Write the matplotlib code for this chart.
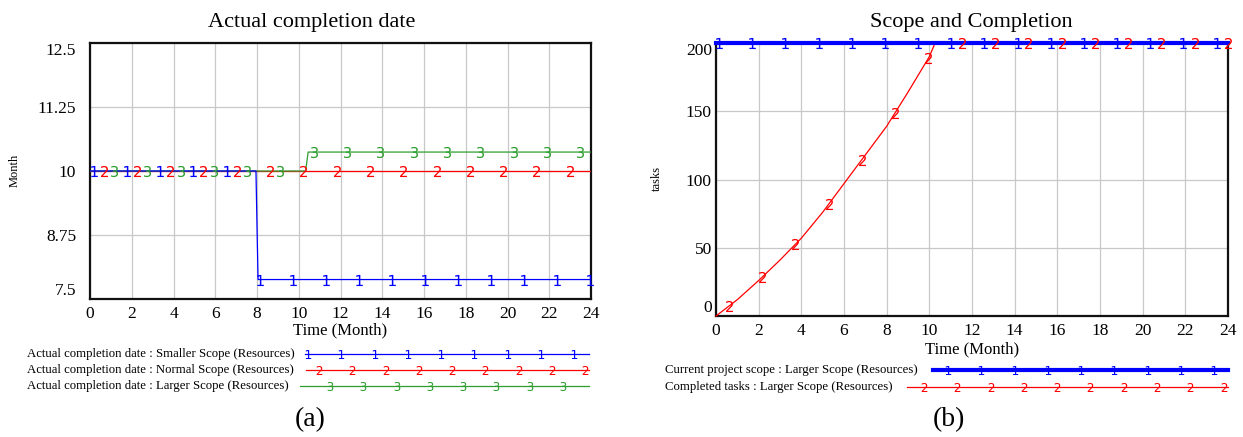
import matplotlib.pyplot as plt
import numpy as np

plt.rcParams['font.family'] = ['Liberation Serif', 'DejaVu Serif']

# (a) Actual completion date [Month]
t_small = [0, 7.95, 8.05, 24]
v_small = [10, 10, 7.88, 7.88]
t_normal = [0, 24]
v_normal = [10, 10]
t_large = [0, 10.33, 10.45, 24]
v_large = [10, 10, 10.37, 10.37]

# (b) Scope and completion [tasks]
t_scope = [0, 24]
v_scope = [200, 200]
t_done = [0, 1, 2, 3, 4, 5, 6, 7, 8, 9, 10, 10.27, 24]
v_done = [0, 12, 26, 41, 57, 76, 97, 118, 139, 164, 190, 200, 200]

x_ticks = list(range(0, 25, 2))
a_yticks = [7.5, 8.75, 10, 11.25, 12.5]
a_ylabels = ['7.5', '8.75', '10', '11.25', '12.5']
b_yticks = [0, 50, 100, 150, 200]

legend_a = ['Actual completion date : Smaller Scope (Resources)',
            'Actual completion date : Normal Scope (Resources)',
            'Actual completion date : Larger Scope (Resources)']
legend_b = ['Current project scope : Larger Scope (Resources)',
            'Completed tasks : Larger Scope (Resources)']

BLUE = '#0000ff'
RED = '#ff0000'
GREEN = '#2e9e2e'
W, H = 1243, 437


def number_marks(ax, t, v, start, step, digit, color, size=8):
    # Vensim style: series number drawn on the line every so often
    tm = np.arange(start, 24.05, step)
    ax.plot(tm, np.interp(tm, t, v), ls='none', marker=f'${digit}$',
            color=color, markersize=size, mew=0, clip_on=False, zorder=6)


def style_axes(ax, yticks, ylabels, ypad):
    ax.set_xlim(0, 24)
    ax.set_xticks(x_ticks)
    ax.set_yticks(yticks)
    ax.set_yticklabels(ylabels)
    ax.grid(True, color='#c8c8c8', lw=0.9)
    ax.set_axisbelow(True)
    ax.tick_params(length=0, labelsize=12.5)
    ax.tick_params(axis='y', pad=ypad)
    ax.tick_params(axis='x', pad=5)
    for s in ax.spines.values():
        s.set_linewidth(1.6)
        s.set_color('#111111')
    lbls = ax.get_yticklabels()
    lbls[0].set_va('bottom')
    lbls[-1].set_va('top')


fig = plt.figure(figsize=(W / 100, H / 100), dpi=100)

# ---- panel (a)
ax1 = fig.add_axes([90 / W, (H - 299) / H, 501 / W, 256 / H])
ax1.set_ylim(7.5, 12.5)
style_axes(ax1, a_yticks, a_ylabels, 10)
ax1.plot(t_normal, v_normal, color=RED, lw=0.9, zorder=3)
ax1.plot(t_large, v_large, color=GREEN, lw=0.9, zorder=3)
ax1.plot(t_small, v_small, color=BLUE, lw=0.9, zorder=4)
number_marks(ax1, t_small, v_small, 0.2, 1.585, 1, BLUE)
number_marks(ax1, t_normal, v_normal, 0.65, 1.595, 2, RED)
number_marks(ax1, t_large, v_large, 1.15, 1.595, 3, GREEN)

# ---- panel (b)
ax2 = fig.add_axes([716 / W, (H - 316) / H, 512 / W, 273 / H])
ax2.set_ylim(0, 200)
style_axes(ax2, b_yticks, [str(v) for v in b_yticks], 3)
ax2.plot(t_done, v_done, color=RED, lw=0.9, clip_on=False, zorder=3)
ax2.plot(t_scope, v_scope, color=BLUE, lw=3, clip_on=False, zorder=4)
number_marks(ax2, t_scope, v_scope, 0.14, 1.555, 1, BLUE)
number_marks(ax2, t_done, v_done, 0.6, 1.56, 2, RED)

# ---- texts and legends, laid out in figure pixels
ov = fig.add_axes([0, 0, 1, 1])
ov.set_xlim(0, W)
ov.set_ylim(H, 0)
ov.axis('off')

ov.text(312, 27, 'Actual completion date', fontsize=16, ha='center', va='baseline')
ov.text(971, 27, 'Scope and Completion', fontsize=16, ha='center', va='baseline')
ov.text(340, 330, 'Time (Month)', fontsize=12, ha='center', va='center')
ov.text(972, 349, 'Time (Month)', fontsize=12, ha='center', va='center')
ov.text(15, 170, 'Month', fontsize=9, rotation=90, ha='center', va='center')
ov.text(657, 178, 'tasks', fontsize=9, rotation=90, ha='center', va='center')
ov.text(310, 420, '(a)', fontsize=20, ha='center', va='center')
ov.text(949, 420, '(b)', fontsize=20, ha='center', va='center')


def legend_row(x_text, y, label, x0, x1, m0, n, digit, color, lw=0.9):
    ov.text(x_text, y, label, fontsize=9.2, ha='left', va='center')
    ov.plot([x0, x1], [y, y], color=color, lw=lw)
    xs = m0 + 33.3 * np.arange(n)
    ov.plot(xs, np.full(n, y), ls='none', marker=f'${digit}$', color=color,
            markersize=6.5, mew=0)


legend_row(27, 354, legend_a[0], 305, 589, 308, 9, 1, BLUE)
legend_row(27, 370, legend_a[1], 306, 589, 319, 9, 2, RED)
legend_row(27, 386, legend_a[2], 300, 589, 330, 8, 3, GREEN)
legend_row(665, 370, legend_b[0], 933, 1228, 948, 9, 1, BLUE, lw=3)
legend_row(665, 387, legend_b[1], 907, 1228, 924, 10, 2, RED)

fig.savefig('out.png', dpi=100)
